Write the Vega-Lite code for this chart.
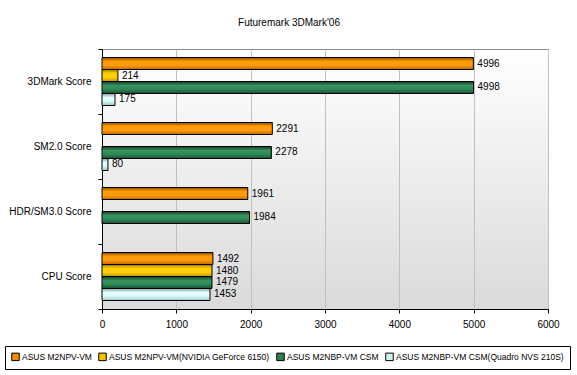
{
  "$schema": "https://vega.github.io/schema/vega-lite/v6.json",
  "width": 446,
  "height": 260,
  "autosize": {"type": "none"},
  "padding": {"left": 102, "top": 49, "right": 29, "bottom": 66},
  "background": "#ffffff",
  "title": {
    "text": "Futuremark 3DMark'06",
    "fontSize": 10,
    "fontWeight": "normal",
    "font": "Liberation Sans",
    "color": "#000000",
    "anchor": "middle",
    "dx": -36,
    "offset": 16
  },
  "config": {
    "font": "Liberation Sans",
    "view": {
      "stroke": "#888888",
      "fill": {"gradient": "linear", "x1": 0, "y1": 0, "x2": 0, "y2": 1,
        "stops": [{"offset": 0, "color": "#ffffff"}, {"offset": 1, "color": "#dadada"}]}
    },
    "axis": {"labelFontSize": 10, "labelFont": "Liberation Sans", "labelColor": "#000000", "domainColor": "#000000", "tickColor": "#000000", "tickSize": 4, "title": null}
  },
  "data": {
    "values": [
      {"cat": "3DMark Score", "series": "ASUS M2NPV-VM", "value": 4996},
      {"cat": "3DMark Score", "series": "ASUS M2NPV-VM(NVIDIA GeForce 6150)", "value": 214},
      {"cat": "3DMark Score", "series": "ASUS M2NBP-VM CSM", "value": 4998},
      {"cat": "3DMark Score", "series": "ASUS M2NBP-VM CSM(Quadro NVS 210S)", "value": 175},
      {"cat": "SM2.0 Score", "series": "ASUS M2NPV-VM", "value": 2291},
      {"cat": "SM2.0 Score", "series": "ASUS M2NBP-VM CSM", "value": 2278},
      {"cat": "SM2.0 Score", "series": "ASUS M2NBP-VM CSM(Quadro NVS 210S)", "value": 80},
      {"cat": "HDR/SM3.0 Score", "series": "ASUS M2NPV-VM", "value": 1961},
      {"cat": "HDR/SM3.0 Score", "series": "ASUS M2NBP-VM CSM", "value": 1984},
      {"cat": "CPU Score", "series": "ASUS M2NPV-VM", "value": 1492},
      {"cat": "CPU Score", "series": "ASUS M2NPV-VM(NVIDIA GeForce 6150)", "value": 1480},
      {"cat": "CPU Score", "series": "ASUS M2NBP-VM CSM", "value": 1479},
      {"cat": "CPU Score", "series": "ASUS M2NBP-VM CSM(Quadro NVS 210S)", "value": 1453}
    ]
  },
  "encoding": {
    "y": {
      "field": "cat", "type": "nominal",
      "sort": ["3DMark Score", "SM2.0 Score", "HDR/SM3.0 Score", "CPU Score"],
      "scale": {"paddingInner": 0, "paddingOuter": 0},
      "axis": {"tickBand": "extent", "labelPadding": 7, "grid": false}
    },
    "yOffset": {
      "field": "series", "type": "nominal",
      "sort": ["ASUS M2NPV-VM", "ASUS M2NPV-VM(NVIDIA GeForce 6150)", "ASUS M2NBP-VM CSM", "ASUS M2NBP-VM CSM(Quadro NVS 210S)"],
      "scale": {"domain": ["ASUS M2NPV-VM", "ASUS M2NPV-VM(NVIDIA GeForce 6150)", "ASUS M2NBP-VM CSM", "ASUS M2NBP-VM CSM(Quadro NVS 210S)"], "paddingInner": 0, "paddingOuter": 0.71}
    },
    "x": {
      "field": "value", "type": "quantitative",
      "scale": {"domain": [0, 6000], "nice": false},
      "axis": {"values": [0, 1000, 2000, 3000, 4000, 5000, 6000], "format": "d", "grid": true, "gridColor": "#c0c0c0", "labelPadding": 6, "labelFlush": false}
    }
  },
  "layer": [
    {
      "mark": {"type": "bar"},
      "encoding": {
        "color": {
          "field": "series", "type": "nominal",
          "scale": {
            "domain": ["ASUS M2NPV-VM", "ASUS M2NPV-VM(NVIDIA GeForce 6150)", "ASUS M2NBP-VM CSM", "ASUS M2NBP-VM CSM(Quadro NVS 210S)"],
            "range": ["#f08c00", "#f5c400", "#2e8050", "#d4f4f4"]
          },
          "legend": {
            "title": null, "orient": "none", "legendX": -97, "legendY": 297,
            "direction": "horizontal", "strokeColor": "#000000", "padding": 6,
            "symbolType": "square", "symbolSize": 56, "symbolStrokeColor": "#000000", "symbolStrokeWidth": 1,
            "labelFont": "Liberation Sans", "labelFontSize": 8.5, "labelColor": "#000000", "labelLimit": 300, "columnPadding": 4, "labelOffset": 2
          }
        }
      }
    },
    {
      "mark": {"type": "bar", "stroke": "#000000", "strokeWidth": 1},
      "encoding": {
        "fill": {
          "condition": [
            {"test": "datum.series === 'ASUS M2NPV-VM'", "value": {"gradient": "linear", "x1": 0, "y1": 0, "x2": 0, "y2": 1, "stops": [{"offset": 0, "color": "#8a4a00"}, {"offset": 0.3, "color": "#ff9a00"}, {"offset": 0.65, "color": "#ff9c10"}, {"offset": 1, "color": "#c06800"}]}},
            {"test": "datum.series === 'ASUS M2NPV-VM(NVIDIA GeForce 6150)'", "value": {"gradient": "linear", "x1": 0, "y1": 0, "x2": 0, "y2": 1, "stops": [{"offset": 0, "color": "#9a7800"}, {"offset": 0.3, "color": "#ffcc00"}, {"offset": 0.65, "color": "#ffd010"}, {"offset": 1, "color": "#c09800"}]}},
            {"test": "datum.series === 'ASUS M2NBP-VM CSM'", "value": {"gradient": "linear", "x1": 0, "y1": 0, "x2": 0, "y2": 1, "stops": [{"offset": 0, "color": "#143c24"}, {"offset": 0.35, "color": "#3a9662"}, {"offset": 0.65, "color": "#2e8656"}, {"offset": 1, "color": "#1a5436"}]}}
          ],
          "value": {"gradient": "linear", "x1": 0, "y1": 0, "x2": 0, "y2": 1, "stops": [{"offset": 0, "color": "#7aa8a8"}, {"offset": 0.35, "color": "#ecffff"}, {"offset": 0.65, "color": "#d8f8f8"}, {"offset": 1, "color": "#98caca"}]}
        }
      }
    },
    {
      "mark": {"type": "text", "align": "left", "baseline": "middle", "dx": 4, "fontSize": 10, "font": "Liberation Sans", "color": "#000000"},
      "encoding": {"text": {"field": "value", "type": "quantitative", "format": "d"}}
    }
  ]
}
